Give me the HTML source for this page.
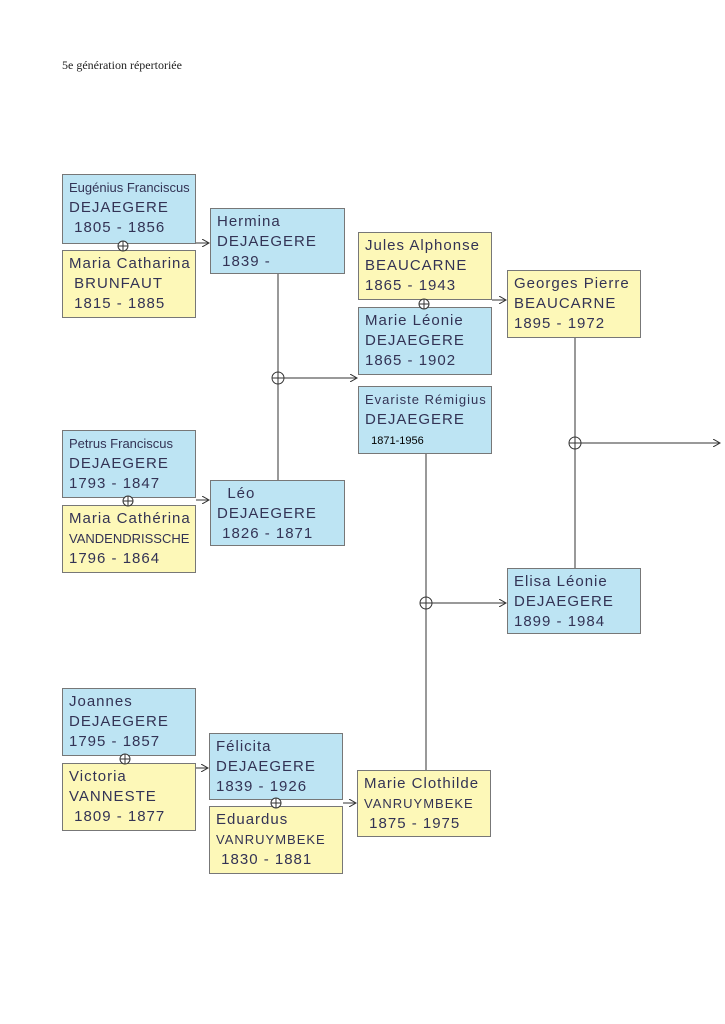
<!DOCTYPE html>
<html><head><meta charset="utf-8"><style>
body{margin:0;width:725px;height:1024px;background:#fff;position:relative;font-family:"Liberation Sans",sans-serif;overflow:hidden}
.b{position:absolute;border:1px solid #777;box-sizing:border-box;color:#335;font-size:15px;line-height:20px;padding:3px 6px;letter-spacing:1px;white-space:nowrap;overflow:hidden}
.bl{background:#bde4f3}.ye{background:#fdf8b8}
.s{font-size:13px;letter-spacing:0}
.t{position:absolute;left:62px;top:58px;font-family:"Liberation Serif",serif;font-size:12px;color:#222}
</style></head><body>
<div class="t">5e génération répertoriée</div>
<svg width="725" height="1024" style="position:absolute;left:0;top:0">
<defs><marker id="a" markerWidth="8" markerHeight="8" refX="7" refY="4" orient="auto"><path d="M0,0 L7,4 L0,8" fill="none" stroke="#333"/></marker></defs>
<g stroke="#333" stroke-width="1" fill="none">
<line x1="278" y1="274" x2="278" y2="480"/>
<line x1="278" y1="378" x2="357" y2="378" marker-end="url(#a)"/>
<circle cx="278" cy="378" r="6" fill="#fff"/><line x1="272" y1="378" x2="284" y2="378"/><line x1="278" y1="372" x2="278" y2="384"/>
<line x1="426" y1="454" x2="426" y2="770"/>
<line x1="426" y1="603" x2="506" y2="603" marker-end="url(#a)"/>
<circle cx="426" cy="603" r="6" fill="#fff"/><line x1="420" y1="603" x2="432" y2="603"/><line x1="426" y1="597" x2="426" y2="609"/>
<line x1="575" y1="338" x2="575" y2="568"/>
<line x1="575" y1="443" x2="720" y2="443" marker-end="url(#a)"/>
<circle cx="575" cy="443" r="6" fill="#fff"/><line x1="569" y1="443" x2="581" y2="443"/><line x1="575" y1="437" x2="575" y2="449"/>
<line x1="196" y1="243" x2="209" y2="243" marker-end="url(#a)"/>
<line x1="492" y1="300" x2="506" y2="300" marker-end="url(#a)"/>
<line x1="196" y1="500" x2="209" y2="500" marker-end="url(#a)"/>
<line x1="196" y1="768" x2="208" y2="768" marker-end="url(#a)"/>
<line x1="343" y1="803" x2="356" y2="803" marker-end="url(#a)"/>
</g>
</svg>
<div class="b bl" style="left:62px;top:174px;width:134px;height:70px"><span class="s">Eugénius Franciscus</span><br>DEJAEGERE<br>&nbsp;1805 - 1856</div>
<div class="b ye" style="left:62px;top:250px;width:134px;height:68px">Maria Catharina<br>&nbsp;BRUNFAUT<br>&nbsp;1815 - 1885</div>
<div class="b bl" style="left:210px;top:208px;width:135px;height:66px">Hermina<br>DEJAEGERE<br>&nbsp;1839 -</div>
<div class="b ye" style="left:358px;top:232px;width:134px;height:68px">Jules Alphonse<br>BEAUCARNE<br>1865 - 1943</div>
<div class="b bl" style="left:358px;top:307px;width:134px;height:68px">Marie Léonie<br>DEJAEGERE<br>1865 - 1902</div>
<div class="b ye" style="left:507px;top:270px;width:134px;height:68px">Georges Pierre<br>BEAUCARNE<br>1895 - 1972</div>
<div class="b bl" style="left:358px;top:386px;width:134px;height:68px;font-size:13px">Evariste Rémigius<br><span style="font-size:15px">DEJAEGERE</span><br><span style="font-size:11px;letter-spacing:0;color:#000">&nbsp;&nbsp;1871-1956</span></div>
<div class="b bl" style="left:62px;top:430px;width:134px;height:68px"><span class="s">Petrus Franciscus</span><br>DEJAEGERE<br>1793 - 1847</div>
<div class="b ye" style="left:62px;top:505px;width:134px;height:68px">Maria Cathérina<br><span class="s">VANDENDRISSCHE</span><br>1796 - 1864</div>
<div class="b bl" style="left:210px;top:480px;width:135px;height:66px">&nbsp;&nbsp;Léo<br>DEJAEGERE<br>&nbsp;1826 - 1871</div>
<div class="b bl" style="left:507px;top:568px;width:134px;height:66px">Elisa Léonie<br>DEJAEGERE<br>1899 - 1984</div>
<div class="b bl" style="left:62px;top:688px;width:134px;height:68px">Joannes<br>DEJAEGERE<br>1795 - 1857</div>
<div class="b ye" style="left:62px;top:763px;width:134px;height:68px">Victoria<br>VANNESTE<br>&nbsp;1809 - 1877</div>
<div class="b bl" style="left:209px;top:733px;width:134px;height:67px">Félicita<br>DEJAEGERE<br>1839 - 1926</div>
<div class="b ye" style="left:209px;top:806px;width:134px;height:68px">Eduardus<br><span style="font-size:13px">VANRUYMBEKE</span><br>&nbsp;1830 - 1881</div>
<div class="b ye" style="left:357px;top:770px;width:134px;height:67px">Marie Clothilde<br><span style="font-size:13px">VANRUYMBEKE</span><br>&nbsp;1875 - 1975</div>
<svg width="725" height="1024" style="position:absolute;left:0;top:0">
<g stroke="#333" fill="#fff">
<circle cx="123" cy="246" r="5"/><circle cx="424" cy="304" r="5"/><circle cx="128" cy="501" r="5"/><circle cx="125" cy="759" r="5"/><circle cx="276" cy="803" r="5"/>
</g>
<g stroke="#333">
<path d="M118 246h10M123 241v10M419 304h10M424 299v10M123 501h10M128 496v10M120 759h10M125 754v10M271 803h10M276 798v10"/>
</g>
</svg>
</body></html>
